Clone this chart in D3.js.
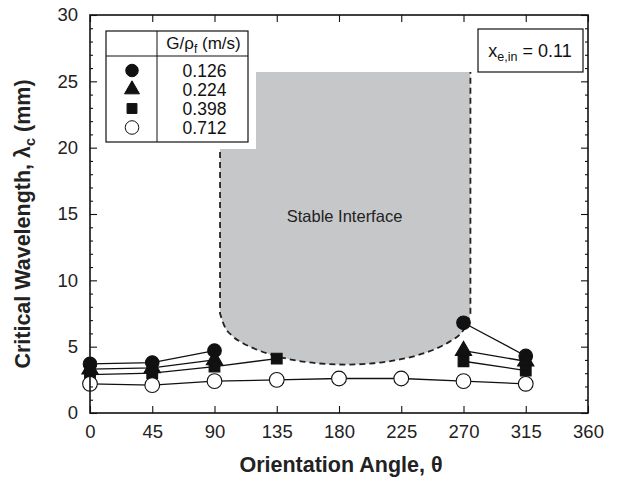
<!DOCTYPE html>
<html><head><meta charset="utf-8">
<script src="https://cdn.jsdelivr.net/npm/d3@7"></script>
<style>body{margin:0;background:#fff}svg{display:block}text{font-family:"Liberation Sans",Arial,sans-serif}</style>
</head><body>
<svg id="c" width="627" height="483"></svg>
<script>
const angles = [0,45,90,135,180,225,270,315];
const seriesNames = ["0.126","0.224","0.398","0.712"];
const vCircle   = [3.7, 3.8, 4.7, null, null, null, 6.8, 4.3];
const vTriangle = [3.3, 3.4, 4.0, null, null, null, 4.7, 3.9];
const vSquare   = [2.9, 3.0, 3.5, 4.1, null, null, 3.9, 3.2];
const vOpen     = [2.2, 2.1, 2.4, 2.5, 2.6, 2.6, 2.4, 2.2];
const xTicks = [0,45,90,135,180,225,270,315,360];
const yTicks = [0,5,10,15,20,25,30];
// stable-interface region boundary (angle, wavelength)
const stableLeft = 94, stableRight = 275, stableTop = 25.7;
const boundAngles = [94,97,103,110,120,135,150,165,185,205,220,235,250,260,268,272,275];
const boundValues = [7.5,6.6,5.8,5.3,4.8,4.28,3.94,3.74,3.65,3.75,3.96,4.3,4.84,5.38,6.0,6.6,7.5];

const svg = d3.select("#c");
const L=90, R=588, T=15, B=413;
const x = d3.scaleLinear().domain([0,360]).range([L,R]);
const y = d3.scaleLinear().domain([0,30]).range([B,T]);

// stable region
const bpts = boundAngles.map((a,i)=>[x(a), y(boundValues[i])]);
const curveGen = d3.line().curve(d3.curveMonotoneX);
const body = curveGen(bpts).slice(1);
svg.append("path").attr("d", "M"+x(stableLeft)+","+y(stableTop)+"L"+body+"L"+x(stableRight)+","+y(stableTop)+"Z")
  .attr("fill","#c6c7c9");
svg.append("path").attr("d", "M"+x(stableLeft)+","+y(stableTop)+"L"+body+"L"+x(stableRight)+","+y(stableTop))
  .attr("fill","none").attr("stroke","#222").attr("stroke-width",1.8).attr("stroke-dasharray","6,4");
svg.append("text").attr("x",x(184)).attr("y",y(14.4)).attr("text-anchor","middle")
  .attr("font-size",16.5).attr("fill","#222").text("Stable Interface");

// legend white background + legend
const lg = {x0:106, x1:248, y0:31, y1:142, div:157, hdr:56};
svg.append("rect").attr("x",lg.x0-8).attr("y",lg.y0-8).attr("width",lg.x1-lg.x0+16).attr("height",lg.y1-lg.y0+15).attr("fill","#fff");
svg.append("rect").attr("x",lg.x0).attr("y",lg.y0).attr("width",lg.x1-lg.x0).attr("height",lg.y1-lg.y0)
  .attr("fill","#fff").attr("stroke","#111").attr("stroke-width",1.2);
svg.append("line").attr("x1",lg.x0).attr("x2",lg.x1).attr("y1",lg.hdr).attr("y2",lg.hdr).attr("stroke","#111").attr("stroke-width",1);
svg.append("line").attr("x1",lg.div).attr("x2",lg.div).attr("y1",lg.y0).attr("y2",lg.y1).attr("stroke","#111").attr("stroke-width",1);
const ht = svg.append("text").attr("x",(lg.div+lg.x1)/2+1).attr("y",49).attr("text-anchor","middle").attr("font-size",17).attr("fill","#111");
ht.append("tspan").text("G/ρ");
ht.append("tspan").attr("font-size",12).attr("dy",4).text("f");
ht.append("tspan").attr("dy",-4).text(" (m/s)");

const symbols = [
  {v:vCircle, type:d3.symbolCircle, size:145, fill:"#111"},
  {v:vTriangle, type:d3.symbolTriangle, size:115, fill:"#111"},
  {v:vSquare, type:d3.symbolSquare, size:115, fill:"#111"},
  {v:vOpen, type:d3.symbolCircle, size:170, fill:"#fff"}
];
const rowY = [70.5,89.5,108.5,127.5];
symbols.forEach((s,i)=>{
  svg.append("path").attr("d", d3.symbol().type(s.type).size(s.size*0.85)())
    .attr("transform",`translate(132,${rowY[i]})`).attr("fill",s.fill).attr("stroke","#111").attr("stroke-width",1);
  svg.append("text").attr("x",(lg.div+lg.x1)/2+2).attr("y",rowY[i]+6.5).attr("text-anchor","middle")
    .attr("font-size",17.5).attr("fill","#111").text(seriesNames[i]);
});

// lines
const line = d3.line().defined(d=>d[1]!=null).x(d=>x(d[0])).y(d=>y(d[1]));
symbols.forEach(s=>{
  const data = angles.map((a,i)=>[a,s.v[i]]);
  svg.append("path").attr("d",line(data)).attr("fill","none").attr("stroke","#111").attr("stroke-width",1.3);
});
// markers
symbols.forEach(s=>{
  const data = angles.map((a,i)=>[a,s.v[i]]).filter(d=>d[1]!=null);
  svg.selectAll(null).data(data).enter().append("path")
    .attr("d", d3.symbol().type(s.type).size(s.size)())
    .attr("transform",d=>`translate(${x(d[0])},${y(d[1])})`)
    .attr("fill",s.fill).attr("stroke","#111").attr("stroke-width",1.1);
});

// frame
svg.append("rect").attr("x",L).attr("y",T).attr("width",R-L).attr("height",B-T).attr("fill","none").attr("stroke","#111").attr("stroke-width",1.6);

// axes
const xAxis = d3.axisBottom(x).tickValues(xTicks).tickSize(-7).tickPadding(12).tickFormat(d3.format("d"));
svg.append("g").attr("transform",`translate(0,${B})`).call(xAxis);
const yAxis = d3.axisLeft(y).tickValues(yTicks).tickSize(-7).tickPadding(12);
svg.append("g").attr("transform",`translate(${L},0)`).call(yAxis);
const yMinor = d3.axisLeft(y).tickValues(d3.range(0,31).filter(v=>v%5)).tickSize(-3).tickFormat("");
svg.append("g").attr("transform",`translate(${L},0)`).call(yMinor);
svg.append("g").attr("transform",`translate(${R},0)`).call(d3.axisRight(y).tickValues(yTicks).tickSize(-7).tickFormat(""));
svg.append("g").attr("transform",`translate(${R},0)`).call(d3.axisRight(y).tickValues(d3.range(0,31).filter(v=>v%5)).tickSize(-3).tickFormat(""));
svg.append("g").attr("transform",`translate(0,${T})`).call(d3.axisTop(x).tickValues(xTicks).tickSize(-7).tickFormat(""));
svg.selectAll(".domain").remove();
svg.selectAll(".tick line").attr("stroke","#111").attr("stroke-width",1.1);
svg.selectAll(".tick text").attr("font-size",18.5).attr("fill","#222").attr("font-family","Liberation Sans, Arial, sans-serif");

// x_e,in box
svg.append("rect").attr("x",478).attr("y",29).attr("width",105).attr("height",43).attr("fill","#fff").attr("stroke","#111").attr("stroke-width",1.2);
const xt = svg.append("text").attr("x",530).attr("y",57).attr("text-anchor","middle").attr("font-size",18).attr("fill","#111");
xt.append("tspan").text("x");
xt.append("tspan").attr("font-size",12.5).attr("dy",4).text("e,in");
xt.append("tspan").attr("dy",-4).text(" = 0.11");

// axis titles
svg.append("text").attr("x",(L+R)/2+2).attr("y",472).attr("text-anchor","middle").attr("font-size",21.5).attr("font-weight","bold").attr("fill","#222").text("Orientation Angle, θ");
const yt = svg.append("text").attr("transform",`translate(30,${(T+B)/2+10}) rotate(-90)`).attr("text-anchor","middle").attr("font-size",21.5).attr("font-weight","bold").attr("fill","#222");
yt.append("tspan").text("Critical Wavelength, λ");
yt.append("tspan").attr("font-size",14.5).attr("dy",5).text("c");
yt.append("tspan").attr("dy",-5).text(" (mm)");
</script>
</body></html>
